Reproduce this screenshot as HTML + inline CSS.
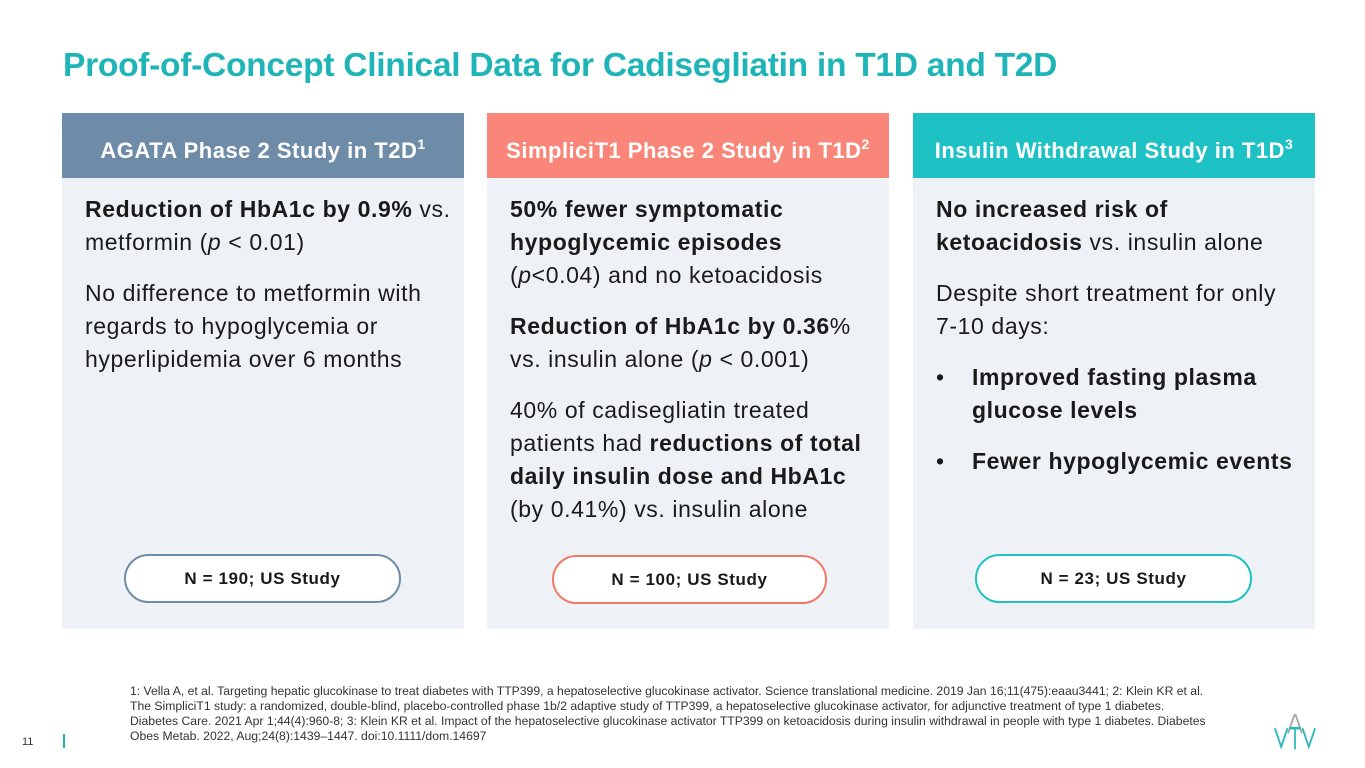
<!DOCTYPE html>
<html><head><meta charset="utf-8"><style>
*{margin:0;padding:0;box-sizing:border-box}
body{width:1365px;height:768px;background:#fff;font-family:"Liberation Sans",sans-serif;position:relative;overflow:hidden;color:#1a1a1a}
.title{position:absolute;left:63px;top:47px;font-size:33.6px;font-weight:bold;color:#1fb5b8;letter-spacing:-0.3px;white-space:nowrap}
.panel{position:absolute;top:113px;width:402px;height:516px;background:#eef1f5}
.hdr{height:65px;color:#fff;font-weight:bold;font-size:22px;letter-spacing:0.5px;text-align:center;line-height:62px;white-space:nowrap}
.hdr sup{font-size:14px;vertical-align:9px}
.body{position:absolute;left:23px;top:80px;right:0;font-size:23px;letter-spacing:0.6px;line-height:33px;white-space:nowrap}
.body p{margin-bottom:18px}
.body ul{list-style:none}
.body li{position:relative;padding-left:36px;font-weight:bold;margin-bottom:18px}
.body li:before{content:"•";position:absolute;left:0;font-weight:normal}
.pill{position:absolute;top:441px;left:62px;width:277px;height:49px;border:2px solid;border-radius:25px;background:#fff;font-weight:bold;font-size:17px;letter-spacing:0.6px;text-align:center;line-height:45px}
.foot{position:absolute;left:130px;top:684px;width:1120px;font-size:12.2px;line-height:15px;color:#333;white-space:nowrap}
</style></head><body>
<div class="title">Proof-of-Concept Clinical Data for Cadisegliatin in T1D and T2D</div>

<div class="panel" style="left:62px">
<div class="hdr" style="background:#6e8ca8">AGATA Phase 2 Study in T2D<sup>1</sup></div>
<div class="body">
<p><b>Reduction of HbA1c by 0.9%</b> vs.<br>metformin (<i>p</i> &lt; 0.01)</p>
<p>No difference to metformin with<br>regards to hypoglycemia or<br>hyperlipidemia over 6 months</p>
</div>
<div class="pill" style="border-color:#6e8ca8">N = 190; US Study</div>
</div>

<div class="panel" style="left:487px">
<div class="hdr" style="background:#f98679">SimpliciT1 Phase 2 Study in T1D<sup>2</sup></div>
<div class="body">
<p><b>50% fewer symptomatic<br>hypoglycemic episodes</b><br>(<i>p</i>&lt;0.04) and no ketoacidosis</p>
<p><b>Reduction of HbA1c by 0.36</b>%<br>vs. insulin alone (<i>p</i> &lt; 0.001)</p>
<p>40% of cadisegliatin treated<br>patients had <b>reductions of total<br>daily insulin dose and HbA1c</b><br>(by 0.41%) vs. insulin alone</p>
</div>
<div class="pill" style="border-color:#f07a66;top:442px;left:65px;width:275px">N = 100; US Study</div>
</div>

<div class="panel" style="left:913px">
<div class="hdr" style="background:#1ec1c4">Insulin Withdrawal Study in T1D<sup>3</sup></div>
<div class="body">
<p><b>No increased risk of<br>ketoacidosis</b> vs. insulin alone</p>
<p>Despite short treatment for only<br>7-10 days:</p>
<ul><li>Improved fasting plasma<br>glucose levels</li><li>Fewer hypoglycemic events</li></ul>
</div>
<div class="pill" style="border-color:#1ec1c4;left:62px">N = 23; US Study</div>
</div>

<div class="foot">1: Vella A, et al. Targeting hepatic glucokinase to treat diabetes with TTP399, a hepatoselective glucokinase activator. Science translational medicine. 2019 Jan 16;11(475):eaau3441; 2: Klein KR et al.<br>The SimpliciT1 study: a randomized, double-blind, placebo-controlled phase 1b/2 adaptive study of TTP399, a hepatoselective glucokinase activator, for adjunctive treatment of type 1 diabetes.<br>Diabetes Care. 2021 Apr 1;44(4):960-8; 3: Klein KR et al. Impact of the hepatoselective glucokinase activator TTP399 on ketoacidosis during insulin withdrawal in people with type 1 diabetes. Diabetes<br>Obes Metab. 2022, Aug;24(8):1439–1447. doi:10.1111/dom.14697</div>

<div style="position:absolute;left:22px;top:736px;font-size:11px;color:#333">11</div>
<div style="position:absolute;left:63px;top:734px;width:2px;height:14px;background:#1fb5b8"></div>

<svg style="position:absolute;left:1272px;top:713px" width="46" height="38" viewBox="0 0 80 45" preserveAspectRatio="none">
<path d="M28 24 L38 4 Q40 1 42 4 L52 24" stroke="#a8a8a8" stroke-width="3" fill="none"/>
<path d="M5 18 L16 40 L27 18" stroke="#2ab8bb" stroke-width="3" fill="none"/>
<path d="M30 18 L50 18 M40 18 L40 43" stroke="#2ab8bb" stroke-width="3" fill="none"/>
<path d="M53 18 L64 40 L75 18" stroke="#2ab8bb" stroke-width="3" fill="none"/>
</svg>
</body></html>
